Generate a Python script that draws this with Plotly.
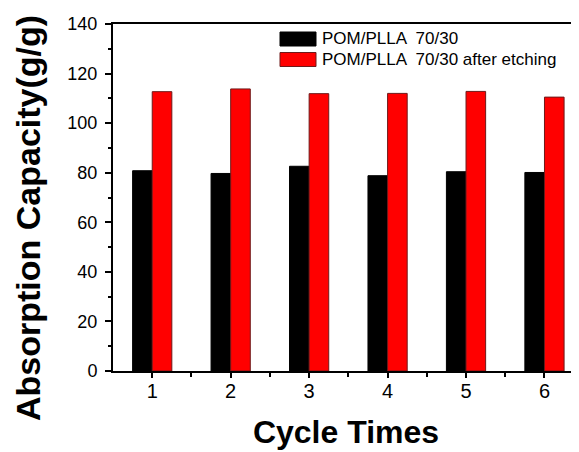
import plotly.graph_objects as go

cycles = [1, 2, 3, 4, 5, 6]
before_etching = [80.8, 79.7, 82.6, 78.8, 80.4, 80.1]
after_etching = [112.7, 113.8, 111.9, 112.0, 112.8, 110.5]
series_names = ["POM/PLLA  70/30", "POM/PLLA  70/30 after etching"]
series_colors = ["#000000", "#ff0000"]
series_edges = ["#000000", "#6e1a1a"]
y_ticks = [0, 20, 40, 60, 80, 100, 120, 140]

FONT = "Liberation Sans, Arial, sans-serif"

# page body has an 8px default margin; the figure starts at (8, 8) of the window
OFF = 8
W, H = 579 - OFF, 452 - OFF
# plot area in window pixels: x 113..579, y 24..371
ML, MR, MT = 113 - OFF, 0, 24 - OFF
MB = H - (371 - OFF)
PW, PH = W - ML - MR, H - MT - MB


def px_x(px):
    return (px - OFF - ML) / PW


def px_y(py):
    return (H - MB - (py - OFF)) / PH


fig = go.Figure()
for name, vals, col, edge in zip(series_names, [before_etching, after_etching],
                                 series_colors, series_edges):
    fig.add_trace(go.Bar(
        x=cycles, y=vals, name=name, showlegend=False,
        marker=dict(color=col, line=dict(color=edge, width=1)),
    ))

# legend drawn as swatches + text (wide rectangular swatches like the original)
shapes = []
annotations = []
for i, (name, col, edge) in enumerate(zip(series_names, series_colors, series_edges)):
    top = 32 + i * 20.5
    shapes.append(dict(type="rect", xref="paper", yref="paper",
                       x0=px_x(280), x1=px_x(316), y0=px_y(top + 14), y1=px_y(top),
                       fillcolor=col, line=dict(color=edge, width=1), layer="above"))
    annotations.append(dict(xref="paper", yref="paper", x=px_x(320), y=px_y(top + 7),
                            xanchor="left", yanchor="middle", showarrow=False,
                            text=name, font=dict(size=17, family=FONT, color="black")))

annotations.append(dict(xref="paper", yref="paper", x=px_x(28), y=px_y(218),
                        xanchor="center", yanchor="middle", showarrow=False, textangle=-90,
                        text="<b>Absorption Capacity(g/g)</b>",
                        font=dict(size=34, family=FONT, color="black")))

fig.update_layout(
    width=W, height=H,
    margin=dict(l=ML, r=MR, t=MT, b=MB, autoexpand=False),
    paper_bgcolor="white", plot_bgcolor="white",
    barmode="group", bargap=0.5, bargroupgap=0,
    font=dict(family=FONT, color="black", size=17),
    showlegend=False,
    shapes=shapes, annotations=annotations,
)

fig.update_xaxes(
    range=[0.5, 6.44], tickmode="array", tickvals=cycles,
    ticktext=[str(c) for c in cycles],
    ticks="outside", ticklen=5, tickwidth=2, tickcolor="black",
    minor=dict(tickvals=[1.5, 2.5, 3.5, 4.5, 5.5], ticks="outside",
               ticklen=4, tickwidth=2, tickcolor="black"),
    showline=True, linewidth=2, linecolor="black", mirror=True,
    showgrid=False, zeroline=False,
    tickfont=dict(size=20, family=FONT), ticklabelstandoff=-4,
    title=dict(text="<b>Cycle Times</b>", font=dict(size=32, family=FONT), standoff=20),
)
fig.update_yaxes(
    range=[0, 140], tickmode="array", tickvals=y_ticks,
    ticks="outside", ticklen=6, tickwidth=2, tickcolor="black",
    minor=dict(tickvals=[10, 30, 50, 70, 90, 110, 130], ticks="outside",
               ticklen=3, tickwidth=2, tickcolor="black"),
    showline=True, linewidth=2, linecolor="black", mirror=False,
    showgrid=False, zeroline=False,
    tickfont=dict(size=18, family=FONT), ticklabelstandoff=4,
)

fig.write_html("out.html")
